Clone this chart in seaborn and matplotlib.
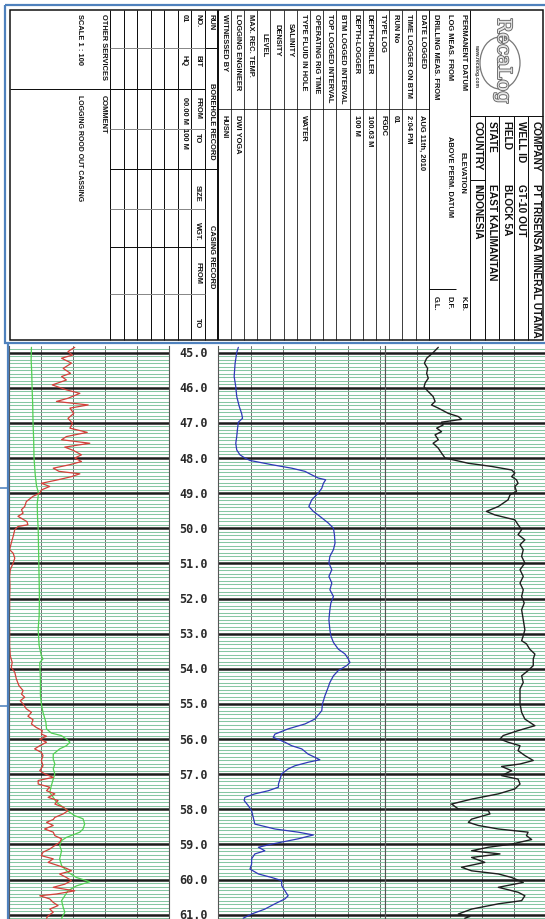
import matplotlib
matplotlib.use("Agg")
import matplotlib.pyplot as plt
import matplotlib.patheffects as pe
from matplotlib.patches import Rectangle, Ellipse
from matplotlib.ticker import MultipleLocator
import seaborn as sns

# ---------------- log curves (depth in m, value in chart divisions 0-5) ----------------
red_depth = [44.85, 44.97, 45.07, 45.16, 45.30, 45.45, 45.59, 45.68, 45.78, 45.92,
             46.06, 46.16, 46.30, 46.39, 46.49, 46.58, 46.73, 46.87, 47.01, 47.15,
             47.27, 47.39, 47.48, 47.58, 47.69, 47.79, 47.91, 48.00, 48.10, 48.19,
             48.29, 48.38, 48.45, 48.53, 48.62, 48.72, 48.81, 48.91, 49.00, 49.09,
             49.24, 49.38, 49.47, 49.57, 49.66, 49.81, 49.90, 49.95, 50.04, 50.23,
             50.42, 50.61, 50.71, 50.85, 50.99, 51.18, 51.37, 51.65, 51.94, 52.32,
             52.60, 52.89, 53.34, 53.63, 53.82, 53.96, 54.10, 54.29, 54.48, 54.62,
             54.72, 54.81, 54.91, 55.00, 55.14, 55.24, 55.35, 55.45, 55.57, 55.67,
             55.76, 55.86, 55.92, 56.00, 56.09, 56.19, 56.28, 56.38, 56.47, 56.61,
             56.76, 56.90, 56.99, 57.09, 57.18, 57.28, 57.37, 57.47, 57.56, 57.66,
             57.75, 57.85, 57.94, 58.04, 58.13, 58.23, 58.29, 58.37, 58.46, 58.56,
             58.65, 58.75, 58.84, 58.94, 59.03, 59.13, 59.22, 59.32, 59.41, 59.51,
             59.60, 59.68, 59.75, 59.84, 59.94, 60.03, 60.13, 60.22, 60.32, 60.41,
             60.46, 60.55, 60.65, 60.74, 60.84, 60.93, 61.03, 61.10]
red_val = [2.05, 1.84, 1.98, 1.64, 1.95, 1.69, 1.92, 1.64, 1.79, 1.35,
           1.79, 2.21, 1.84, 1.48, 2.47, 1.90, 2.02, 1.84, 1.98, 1.90,
           2.44, 1.79, 1.64, 2.52, 1.74, 2.02, 2.26, 2.05, 2.26, 1.90,
           1.38, 1.56, 2.21, 1.95, 1.53, 1.01, 1.27, 1.01, 0.96, 0.75,
           0.54, 0.49, 0.39, 0.44, 0.28, 0.56, 0.59, 0.28, 0.18, 0.13,
           0.07, 0.02, 0.13, 0.18, 0.13, 0.04, 0.02, 0.03, 0.02, 0.02,
           0.00, 0.02, 0.02, 0.04, 0.10, 0.07, 0.18, 0.23, 0.31, 0.44,
           0.39, 0.49, 0.35, 0.44, 0.54, 0.70, 0.59, 0.75, 0.70, 0.85,
           1.04, 1.01, 1.17, 0.96, 1.17, 0.96, 0.80, 1.01, 1.06, 1.01,
           1.06, 0.96, 1.11, 1.38, 0.91, 0.91, 1.27, 1.17, 1.43, 1.22,
           1.53, 1.43, 1.69, 1.84, 1.69, 1.43, 1.38, 1.17, 1.38, 1.11,
           1.38, 1.43, 1.64, 1.58, 1.43, 1.27, 1.06, 1.01, 1.38, 1.22,
           1.53, 1.79, 1.95, 1.58, 1.79, 1.95, 1.74, 1.38, 2.05, 1.48,
           0.96, 1.27, 1.38, 1.53, 1.27, 1.38, 1.22, 1.17]

green_depth = [44.85, 45.2, 45.6, 46.0, 46.5, 47.0, 47.5, 48.0, 48.5, 48.8,
               49.0, 49.3, 49.7, 50.0, 50.5, 51.0, 51.5, 52.0, 52.5, 52.87,
               53.34, 53.63, 53.72, 53.82, 54.29, 54.76, 55.00, 55.24, 55.52, 55.71,
               55.83, 55.90, 56.00, 56.09, 56.19, 56.28, 56.43, 56.57, 56.71, 56.85,
               56.99, 57.14, 57.33, 57.52, 57.66, 57.80, 57.94, 58.09, 58.18, 58.27,
               58.42, 58.56, 58.65, 58.80, 58.89, 59.03, 59.18, 59.41, 59.60, 59.79,
               59.94, 60.06, 60.18, 60.32, 60.46, 60.60, 60.79, 60.93, 61.10]
green_val = [0.70, 0.69, 0.71, 0.72, 0.74, 0.75, 0.77, 0.78, 0.82, 0.86,
             0.92, 0.88, 0.89, 0.91, 0.92, 0.93, 0.94, 0.95, 0.94, 0.91,
             0.94, 1.01, 1.06, 0.96, 0.98, 0.98, 1.01, 1.06, 1.15, 1.17,
             1.32, 1.63, 1.79, 1.90, 1.79, 1.58, 1.38, 1.38, 1.43, 1.38,
             1.43, 1.38, 1.32, 1.27, 1.38, 1.48, 1.69, 1.90, 2.05, 2.31,
             2.36, 2.31, 2.21, 1.79, 1.64, 1.58, 1.64, 1.58, 1.64, 1.84,
             2.10, 2.52, 2.10, 1.84, 1.74, 1.64, 1.69, 1.74, 1.64]

blue_depth = [44.85, 45.00, 45.30, 45.68, 45.97, 46.25, 46.54, 46.73, 46.87, 46.98,
              47.20, 47.39, 47.58, 47.77, 47.91, 48.00, 48.07, 48.19, 48.29, 48.38,
              48.48, 48.57, 48.62, 48.72, 48.86, 49.00, 49.19, 49.38, 49.52, 49.66,
              49.85, 50.00, 50.18, 50.42, 50.61, 50.80, 50.99, 51.18, 51.37, 51.56,
              51.75, 51.94, 52.13, 52.32, 52.60, 52.89, 53.06, 53.25, 53.44, 53.58,
              53.72, 53.82, 53.91, 54.05, 54.20, 54.39, 54.57, 54.76, 55.00, 55.19,
              55.43, 55.57, 55.71, 55.86, 55.95, 56.09, 56.19, 56.28, 56.43, 56.52,
              56.59, 56.66, 56.76, 56.85, 56.99, 57.14, 57.28, 57.37, 57.47, 57.56,
              57.66, 57.75, 57.90, 58.04, 58.23, 58.42, 58.56, 58.65, 58.73, 58.84,
              58.99, 59.08, 59.18, 59.27, 59.41, 59.56, 59.70, 59.84, 59.94, 60.03,
              60.17, 60.32, 60.46, 60.55, 60.69, 60.84, 60.98, 61.10]
blue_val = [0.62, 0.57, 0.52, 0.49, 0.54, 0.57, 0.65, 0.72, 0.75, 0.62,
            0.59, 0.57, 0.54, 0.57, 0.67, 0.82, 0.98, 1.65, 2.27, 2.68,
            2.89, 3.09, 3.32, 3.25, 3.20, 3.09, 2.89, 2.80, 2.94, 3.14,
            3.40, 3.56, 3.59, 3.61, 3.56, 3.45, 3.42, 3.51, 3.42, 3.51,
            3.45, 3.56, 3.48, 3.45, 3.42, 3.45, 3.48, 3.56, 3.71, 3.92,
            4.02, 4.07, 3.97, 3.71, 3.56, 3.45, 3.38, 3.30, 3.22, 3.20,
            2.99, 2.68, 2.16, 1.75, 1.70, 2.06, 2.27, 2.58, 2.78, 2.99,
            3.14, 2.78, 2.37, 2.16, 1.96, 1.91, 1.86, 1.86, 1.55, 1.13,
            0.82, 0.80, 0.93, 1.03, 1.08, 1.13, 1.75, 2.47, 2.94, 2.47,
            1.65, 1.24, 1.44, 1.13, 1.03, 1.03, 0.98, 1.24, 1.65, 1.96,
            1.96, 2.06, 2.16, 2.06, 1.75, 1.44, 1.03, 0.77]

black_depth = [44.85, 45.00, 45.16, 45.30, 45.45, 45.59, 45.73, 45.87, 45.98, 46.11,
               46.25, 46.39, 46.49, 46.58, 46.73, 46.82, 46.90, 46.98, 47.06, 47.15,
               47.25, 47.34, 47.48, 47.58, 47.72, 47.86, 48.00, 48.15, 48.24, 48.34,
               48.43, 48.53, 48.62, 48.72, 48.81, 48.95, 49.05, 49.19, 49.38, 49.52,
               49.62, 49.76, 49.90, 50.04, 50.18, 50.33, 50.47, 50.61, 50.80, 50.99,
               51.18, 51.37, 51.56, 51.75, 51.94, 52.13, 52.32, 52.60, 52.89, 53.06,
               53.20, 53.29, 53.44, 53.58, 53.72, 53.91, 54.05, 54.20, 54.39, 54.57,
               54.76, 55.00, 55.24, 55.43, 55.62, 55.76, 55.90, 56.00, 56.09, 56.19,
               56.33, 56.47, 56.61, 56.71, 56.78, 56.90, 57.04, 57.14, 57.28, 57.42,
               57.56, 57.71, 57.85, 57.99, 58.04, 58.13, 58.28, 58.37, 58.46, 58.56,
               58.65, 58.75, 58.86, 58.99, 59.08, 59.18, 59.27, 59.37, 59.51, 59.65,
               59.75, 59.84, 59.94, 60.08, 60.22, 60.36, 60.46, 60.60, 60.69, 60.84,
               60.98, 61.05, 61.10]
black_val = [1.65, 1.49, 1.29, 1.22, 1.32, 1.29, 1.34, 1.24, 1.21, 1.34,
             1.49, 1.55, 1.44, 1.65, 1.96, 2.27, 2.37, 1.75, 1.80, 1.60,
             1.75, 1.55, 1.65, 1.49, 1.65, 1.75, 1.86, 2.58, 3.30, 3.92,
             4.02, 3.92, 4.07, 4.12, 4.02, 4.07, 3.87, 3.81, 3.51, 3.14,
             3.40, 4.02, 4.12, 4.23, 4.12, 4.33, 4.18, 4.28, 4.23, 4.33,
             4.18, 4.28, 4.18, 4.28, 4.23, 4.31, 4.23, 4.28, 4.33, 4.28,
             4.23, 4.38, 4.48, 4.64, 4.59, 4.59, 4.43, 4.23, 4.28, 4.18,
             4.18, 4.18, 4.23, 4.33, 4.64, 4.12, 3.66, 3.56, 3.81, 4.18,
             4.12, 4.33, 4.59, 4.18, 3.61, 3.92, 3.61, 4.12, 4.18, 4.02,
             3.51, 2.68, 2.06, 2.27, 3.20, 3.25, 2.68, 2.58, 2.89, 3.51,
             4.43, 4.38, 4.54, 3.92, 3.20, 2.68, 3.56, 2.68, 3.09, 2.37,
             2.68, 3.51, 3.92, 4.28, 3.51, 4.12, 4.33, 4.23, 3.51, 2.68,
             2.27, 2.63, 2.47]

depth_marks = list(range(45, 62))

# ---------------- header text ----------------
company_labels = ["COMPANY", "WELL ID", "FIELD", "STATE", "COUNTRY"]
company_values = ["PT TRISENSA MINERAL UTAMA", "GT-10 OUT", "BLOCK 5A", "EAST KALIMANTAN", "INDONESIA"]
datum_labels = ["PERMANENT DATUM", "LOG MEAS. FROM", "DRILLING MEAS. FROM"]
datum_marks = ["K.B.", "D.F.", "G.L."]
info_labels = ["DATE LOGGED", "TIME LOGGER ON BTM", "RUN No", "TYPE LOG", "DEPTH-DRILLER",
               "DEPTH-LOGGER", "BTM LOGGED INTERVAL", "TOP LOGGED INTERVAL", "OPERATING RIG TIME",
               "TYPE FLUID IN HOLE", "SALINITY", "DENSITY", "LEVEL", "MAX. REC. TEMP.",
               "LOGGING ENGINEER", "WITNESSED BY"]
info_values = ["AUG 11th, 2010", "2:04 PM", "01", "FGDC", "100.63 M", "100 M", "", "", "",
               "WATER", "", "", "", "", "DWI YOGA", "HUSNI"]
indented = ["SALINITY", "DENSITY", "LEVEL"]
record_head = ["NO.", "BIT", "FROM", "TO", "SIZE", "WGT.", "FROM", "TO"]
record_row = ["01", "HQ", "00.00 M", "100 M"]

W, H = 545, 920
BLUE = "#4f81bd"
sns.set_style("white")
fig = plt.figure(figsize=(W / 100, H / 100), dpi=100)


def px_axes(x0, y0, x1, y1, **kw):
    return fig.add_axes([x0 / W, 1 - y1 / H, (x1 - x0) / W, (y1 - y0) / H], **kw)


D_TOP, D_BOT = 44.812, 61.122
LOG_Y0 = 347


def track(x0, x1, xmax):
    ax = px_axes(x0, LOG_Y0, x1, H)
    ax.set_xlim(0, xmax)
    ax.set_ylim(D_BOT, D_TOP)
    ax.yaxis.set_major_locator(MultipleLocator(1))
    ax.yaxis.set_minor_locator(MultipleLocator(0.1))
    ax.xaxis.set_major_locator(MultipleLocator(1))
    ax.grid(True, which="minor", axis="y", color="#86c6a3", lw=0.75)
    ax.grid(True, which="major", axis="y", color="#1c1c1c", lw=1.8)
    ax.grid(True, which="major", axis="x", color="#6e6e6e", lw=0.7)
    ax.set_axisbelow(True)
    ax.tick_params(which="both", length=0, labelleft=False, labelbottom=False)
    for s in ["top", "bottom"]:
        ax.spines[s].set_visible(False)
    for s in ["left", "right"]:
        ax.spines[s].set_color("#555555")
        ax.spines[s].set_linewidth(0.8)
    return ax


ax1 = track(9, 169.3, 5)
ax2 = track(218.3, 385, 5 * (385 - 218.3) / 161.7)
ax3 = track(385, 546.5, 5)

sns.lineplot(x=green_val, y=green_depth, ax=ax1, orient="y", sort=False, estimator=None,
             color="#52d052", lw=0.9)
sns.lineplot(x=red_val, y=red_depth, ax=ax1, orient="y", sort=False, estimator=None,
             color="#d3403a", lw=0.9)
sns.lineplot(x=blue_val, y=blue_depth, ax=ax2, orient="y", sort=False, estimator=None,
             color="#2f38b8", lw=0.9)
sns.lineplot(x=black_val, y=black_depth, ax=ax3, orient="y", sort=False, estimator=None,
             color="#1e1e1e", lw=1.0)
for ax in (ax1, ax2, ax3):
    ax.set_xlabel("")
    ax.set_ylabel("")

axd = px_axes(169.3, LOG_Y0, 218.3, H)
axd.set_xlim(0, 1)
axd.set_ylim(D_BOT, D_TOP)
axd.axis("off")
for d in depth_marks:
    axd.text(0.5, d, f"{d:.1f}", ha="center", va="center", fontsize=8.5,
             family="DejaVu Sans Mono", fontweight="bold", color="#2a2a2a")

# ---------------- header (pixel coordinates) ----------------
ov = fig.add_axes([0, 0, 1, 1], zorder=10)
ov.set_xlim(0, W)
ov.set_ylim(H, 0)
ov.axis("off")


def seg(x0, y0, x1, y1, c="#111111", w=1.0):
    ov.plot([x0, x1], [y0, y1], color=c, lw=w * 0.72, solid_capstyle="butt")


def vt(x, y, s, size=5.4, va="top", color="#111111", **kw):
    ov.text(x, y, s, rotation=-90, ha="center", va=va, fontsize=size, fontweight="bold",
            family=["Liberation Sans", "DejaVu Sans"], color=color, **kw)


# frames
ov.add_patch(Rectangle((5, 5.5), 548, 338.5, fill=False, ec=BLUE, lw=1.6))
ov.add_patch(Rectangle((10, 11), 533, 329.5, fill=False, ec="#111111", lw=1.1))
seg(8, 344, 8, H, BLUE, 2.2)
seg(0, 489, 9, 489, BLUE, 1.6)
seg(0, 707, 9, 707, BLUE, 1.6)

Y0, Y1 = 11, 340.5

# logo block + company block
seg(470, Y0, 470, Y1)
seg(470, 117, 543, 117)
ov.text(503, 62, "RecaLog", rotation=-90, ha="center", va="center", fontsize=14,
        family="DejaVu Serif", color="#e6e6e6",
        path_effects=[pe.withStroke(linewidth=1.3, foreground="#666666")])
ov.add_patch(Ellipse((500, 64), 40, 52, fill=False, ec="#777777", lw=0.9))
vt(476.5, 66, "www.recalog.com", size=3.6, va="center", color="#333333")
comp_w = (543 - 470) / 5
for i, (lab, val) in enumerate(zip(company_labels, company_values)):
    xc = 543 - comp_w * (i + 0.5)
    vt(xc, 121, lab, size=7.3)
    vt(xc, 184, val, size=7.3)
    if i > 0:
        seg(543 - comp_w * i, 117, 543 - comp_w * i, Y1)
seg(470, 181, 470 + comp_w, 181)

# datum block
row_w = 13.2
mid_x0 = 217.5
mid_top = mid_x0 + row_w * len(info_labels)
datum_w = (470 - mid_top) / 3
seg(mid_top, Y0, mid_top, Y1)
for i, (lab, mk) in enumerate(zip(datum_labels, datum_marks)):
    xc = 470 - datum_w * (i + 0.5)
    vt(xc, 14, lab)
    vt(xc, 296, mk)
vt(470 - datum_w * 0.5 - 1, 173, "ELEVATION", va="center")
vt(470 - datum_w * 1.5, 177, "ABOVE PERM. DATUM", va="center")
seg(mid_top, 290, 470 - datum_w, 290)

# info rows
for i, (lab, val) in enumerate(zip(info_labels, info_values)):
    xc = mid_top - row_w * (i + 0.5)
    if lab in indented:
        vt(xc, 57, lab, va="bottom")
    else:
        vt(xc, 14, lab)
    if val:
        vt(xc, 115, val)
    if i > 0:
        seg(mid_top - row_w * i, Y0, mid_top - row_w * i, Y1, w=0.8)
seg(mid_x0, 110, mid_top, 110, w=0.8)
seg(mid_x0, Y0, mid_x0, Y1, w=2.0)

# borehole / casing record
rec_lines = [110, 123.5, 137, 150.5, 164, 177.5, 191, 204.5]
for x in rec_lines:
    seg(x, Y0, x, Y1, w=1.0)
for y, c in zip([49, 90, 130, 170, 210, 248, 295],
                ["#888888", "#111111", "#888888", "#111111", "#888888", "#111111", "#888888"]):
    seg(110, y, 204.5, y, c=c)
seg(204.5, 49, mid_x0, 49)
seg(204.5, 170, mid_x0, 170)
vt(211, 14, "RUN")
vt(211, 121, "BOREHOLE RECORD", va="center")
vt(211, 257, "CASING RECORD", va="center")
for lab, y in zip(record_head, [14, 55, 97, 133, 185, 222, 262, 318]):
    vt(197.75, y, lab)
for lab, y in zip(record_row, [14, 55, 97, 128]):
    vt(184.25, y, lab)

# other services / comment
seg(10, 90, 110, 90)
vt(103.5, 14, "OTHER SERVICES")
vt(103.5, 95, "COMMENT")
vt(79, 14, "SCALE 1 : 100")
vt(79, 95, "LOGGING ROOD OUT CASSING", size=5.0)

fig.savefig("out.png", dpi=100)
